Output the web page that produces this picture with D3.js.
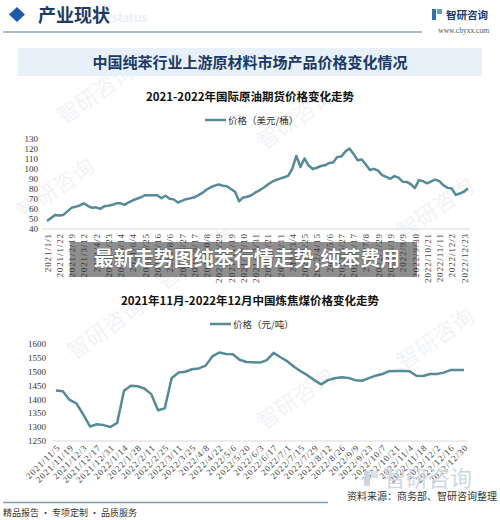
<!DOCTYPE html>
<html>
<head>
<meta charset="utf-8">
<script src="https://cdn.jsdelivr.net/npm/d3@7/dist/d3.min.js"></script>
<style>
  body { margin: 0; background: #fff; }
  svg { display: block; }
</style>
</head>
<body>
<div id="chart"></div>
<script>
(function() {
    const width = 500;
    const height = 520;
    const lineColor = "#558a97";
    const cjk = "'Noto Sans CJK SC', 'Noto Sans', sans-serif";
    const num = "'Liberation Serif', 'DejaVu Serif', serif";

    // Pétrole brut : un point par semaine, une étiquette toutes les 3 semaines
    const oilLabels = ["2021/1/1", "2021/1/22", "2021/2/19", "2021/3/12", "2021/4/2", "2021/4/23", "2021/5/14",
        "2021/6/4", "2021/6/25", "2021/7/16", "2021/8/6", "2021/8/27", "2021/9/17", "2021/10/8", "2021/10/29",
        "2021/11/19", "2021/12/10", "2021/12/31", "2022/1/21", "2022/2/11", "2022/3/4", "2022/3/25", "2022/4/15",
        "2022/5/6", "2022/5/27", "2022/6/17", "2022/7/8", "2022/7/29", "2022/8/19", "2022/9/9", "2022/9/30",
        "2022/10/21", "2022/11/11", "2022/12/2", "2022/12/23"];
    const oilPrices = [48, 51, 54, 53.5, 54, 57.5, 61, 62, 63.5, 65.5,
        63, 61, 61.5, 60, 62.5, 63, 64, 65.5, 65.5, 64,
        66.5, 68.5, 70, 71.5, 73.6, 73.6, 73.6, 73.5, 70.5, 73,
        70, 69.4, 66.3, 68, 69.6, 70.4, 71.5, 73.4, 75.8, 79,
        81.2, 83, 84.2, 83, 82.5, 79.7, 77, 67.5, 71.3, 72,
        73.5, 76.3, 78.4, 81, 84, 86.7, 88.6, 90, 91.3, 92.8,
        99.6, 112.5, 101.5, 110, 103, 99.5, 100.8, 102.5, 103.2, 105.5,
        106, 111.5, 112, 116.8, 119.8, 114.5, 108.2, 109, 104, 98.5,
        99.7, 98, 93.5, 91.7, 89.8, 92.5, 91, 87, 86.7, 84.5,
        80.5, 88.5, 87.5, 85.3, 87.3, 89, 87.5, 83.4, 80.8, 80.3,
        73.8, 75.2, 77, 80.3];
    const oilTicks = [40, 50, 60, 70, 80, 90, 100, 110, 120, 130];

    // Charbon à coke : un point par semaine, une étiquette toutes les 2 semaines
    const coalLabels = ["2021/11/5", "2021/11/19", "2021/12/3", "2021/12/17", "2021/12/31", "2022/1/14",
        "2022/1/28", "2022/2/11", "2022/2/25", "2022/3/11", "2022/3/25", "2022/4/8", "2022/4/22", "2022/5/6",
        "2022/5/20", "2022/6/3", "2022/6/17", "2022/7/1", "2022/7/15", "2022/7/29", "2022/8/12", "2022/8/26",
        "2022/9/9", "2022/9/23", "2022/10/7", "2022/10/21", "2022/11/4", "2022/11/18", "2022/12/2",
        "2022/12/16", "2022/12/30"];
    const coalPrices = [1431, 1428, 1397, 1385, 1345, 1302, 1310, 1307, 1300, 1315,
        1430, 1448, 1446, 1438, 1418, 1360, 1367, 1475, 1495, 1498,
        1507, 1510, 1520, 1553, 1567, 1562, 1561, 1541, 1533, 1532,
        1531, 1540, 1566, 1550, 1536, 1516, 1500, 1485, 1468, 1453,
        1468, 1475, 1478, 1476, 1468, 1466, 1475, 1484, 1490, 1500,
        1501, 1501, 1500, 1484, 1483, 1490, 1490, 1495, 1504, 1504,
        1504];
    const coalTicks = [1250, 1300, 1350, 1400, 1450, 1500, 1550, 1600];

    const svg = d3.select("#chart").append("svg")
        .attr("width", width).attr("height", height);

    // Filigranes
    const wm = svg.append("g").attr("fill", "#f1f4f7").attr("font-family", cjk).attr("font-size", 22);
    [[100, 100], [300, 125], [440, 215], [110, 335], [300, 405], [440, 345], [60, 195], [200, 265]].forEach(([x, y]) => {
        wm.append("text").attr("transform", `translate(${x},${y}) rotate(-35)`)
            .attr("text-anchor", "middle").text("智研咨询");
    });

    // En-tête
    svg.append("path").attr("d", "M17,7 L25,14.5 L17,22 L9,14.5 Z").attr("fill", "#1f5aa6");
    svg.append("text").attr("x", 112).attr("y", 22).attr("font-family", "Lato, sans-serif").attr("font-size", 13)
        .attr("font-weight", "bold").attr("fill", "#e9eef3").text("status");
    svg.append("text").attr("x", 38).attr("y", 22).attr("font-family", cjk).attr("font-size", 18)
        .attr("font-weight", "bold").attr("fill", "#1e3a64").text("产业现状");
    svg.append("line").attr("x1", 3).attr("x2", 422).attr("y1", 32).attr("y2", 32)
        .attr("stroke", "#8fa3b2").attr("stroke-width", 1.5);
    svg.append("rect").attr("x", 432).attr("y", 9).attr("width", 4).attr("height", 11).attr("fill", "#2f6fb5");
    svg.append("rect").attr("x", 437).attr("y", 9).attr("width", 5).attr("height", 5).attr("fill", "#5aa0d8");
    svg.append("text").attr("x", 446).attr("y", 19).attr("font-family", cjk).attr("font-size", 10.5)
        .attr("font-weight", "bold").attr("fill", "#1c3b6e").text("智研咨询");
    svg.append("text").attr("x", 489).attr("y", 33).attr("text-anchor", "end").attr("font-family", num)
        .attr("font-size", 7.5).attr("fill", "#555").text("www.chyxx.com");

    // Bandeau du titre
    svg.append("rect").attr("x", 18).attr("y", 48).attr("width", 464).attr("height", 28).attr("fill", "#e8f1f9");
    svg.append("text").attr("x", 250).attr("y", 68).attr("text-anchor", "middle").attr("font-family", cjk)
        .attr("font-size", 15).attr("font-weight", "bold").attr("fill", "#1b3a66")
        .text("中国纯苯行业上游原材料市场产品价格变化情况");

    function drawChart(opt) {
        const g = svg.append("g");
        g.append("text").attr("x", 250).attr("y", opt.titleY).attr("text-anchor", "middle")
            .attr("font-family", cjk).attr("font-size", 11.5).attr("font-weight", "bold").attr("fill", "#111")
            .text(opt.title);

        g.append("line").attr("x1", opt.legendX).attr("x2", opt.legendX + 21)
            .attr("y1", opt.legendY).attr("y2", opt.legendY)
            .attr("stroke", lineColor).attr("stroke-width", 2.5);
        g.append("text").attr("x", opt.legendX + 23).attr("y", opt.legendY + 3.5)
            .attr("font-family", cjk).attr("font-size", 9.5).attr("fill", "#333").text(opt.legend);

        const x = d3.scaleLinear().domain([0, opt.values.length - 1]).range(opt.xRange);
        const y = d3.scaleLinear().domain([opt.ticks[0], opt.ticks[opt.ticks.length - 1]]).range(opt.yRange);

        const yAxis = g.append("g").attr("transform", `translate(${opt.yLabelX},0)`)
            .call(d3.axisLeft(y).tickValues(opt.ticks).tickFormat(d3.format("d")).tickSize(0).tickPadding(0));
        yAxis.select(".domain").remove();
        yAxis.selectAll("text").attr("font-family", num).attr("font-size", 9).attr("fill", "#333");

        const baseY = y(opt.ticks[0]);
        g.append("line").attr("x1", x(opt.basePad[0])).attr("x2", x(opt.basePad[1]))
            .attr("y1", baseY).attr("y2", baseY).attr("stroke", "#d9d9d9").attr("stroke-width", 1);

        const xAxis = g.append("g").attr("transform", `translate(0,${baseY})`)
            .call(d3.axisBottom(x)
                .tickValues(opt.labels.map((d, i) => i * opt.step))
                .tickFormat(i => opt.labels[i / opt.step])
                .tickSize(0));
        xAxis.select(".domain").remove();
        const xt = xAxis.selectAll("text").attr("font-family", num).attr("font-size", 9)
            .attr("letter-spacing", 0.9).attr("fill", "#444").attr("text-anchor", "end");
        if (opt.rotate === -90) {
            xt.attr("transform", "rotate(-90)").attr("x", -4).attr("y", 0).attr("dy", "0.35em");
        } else {
            xt.attr("transform", "translate(2,5) rotate(-45)").attr("x", 0).attr("y", 0).attr("dy", "0.35em");
        }

        const line = d3.line().x((d, i) => x(i)).y(d => y(d));
        g.append("path").datum(opt.values)
            .attr("fill", "none").attr("stroke", lineColor).attr("stroke-width", 2.5)
            .attr("stroke-linejoin", "round").attr("d", line);
    }

    drawChart({
        title: "2021-2022年国际原油期货价格变化走势", titleY: 101,
        legend: "价格（美元/桶）", legendX: 205, legendY: 120,
        values: oilPrices, labels: oilLabels, ticks: oilTicks, step: 3,
        xRange: [47, 468], yRange: [229, 138.3], yLabelX: 38, basePad: [-1.2, 103.5], rotate: -90
    });

    // Bandeau superposé
    svg.append("rect").attr("x", 70).attr("y", 242).attr("width", 347).attr("height", 35)
        .attr("fill", "#333").attr("opacity", 0.55);
    svg.append("text").attr("x", 247).attr("y", 266).attr("text-anchor", "middle").attr("font-family", cjk)
        .attr("font-size", 20).attr("font-weight", "bold").attr("fill", "#fff")
        .attr("stroke", "#555").attr("stroke-width", 0.8).attr("paint-order", "stroke")
        .text("最新走势图纯苯行情走势,纯苯费用");

    drawChart({
        title: "2021年11月-2022年12月中国炼焦煤价格变化走势", titleY: 305,
        legend: "价格（元/吨）", legendX: 210, legendY: 324,
        values: coalPrices, labels: coalLabels, ticks: coalTicks, step: 2,
        xRange: [56, 464], yRange: [441, 343.3], yLabelX: 46, basePad: [-0.5, 60.5], rotate: -45
    });

    // Pied de page
    svg.append("rect").attr("x", 364).attr("y", 471).attr("width", 6).attr("height", 15).attr("fill", "#c9d6e0");
    svg.append("rect").attr("x", 371).attr("y", 471).attr("width", 7).attr("height", 7).attr("fill", "#d6e4ee");
    svg.append("text").attr("x", 384).attr("y", 486).attr("font-family", cjk).attr("font-size", 22)
        .attr("fill", "#cfd8df").text("智研咨询");
    svg.append("line").attr("x1", 3).attr("x2", 328).attr("y1", 502.5).attr("y2", 502.5)
        .attr("stroke", "#7f9fae").attr("stroke-width", 1.5);
    svg.append("text").attr("x", 497).attr("y", 500).attr("text-anchor", "end").attr("font-family", cjk)
        .attr("font-size", 10).attr("fill", "#333").text("资料来源：商务部、智研咨询整理");
    svg.append("text").attr("x", 3).attr("y", 516).attr("font-family", cjk)
        .attr("font-size", 9).attr("fill", "#333").text("精品报告 · 专项定制 · 品质服务");
})();
</script>
</body>
</html>
